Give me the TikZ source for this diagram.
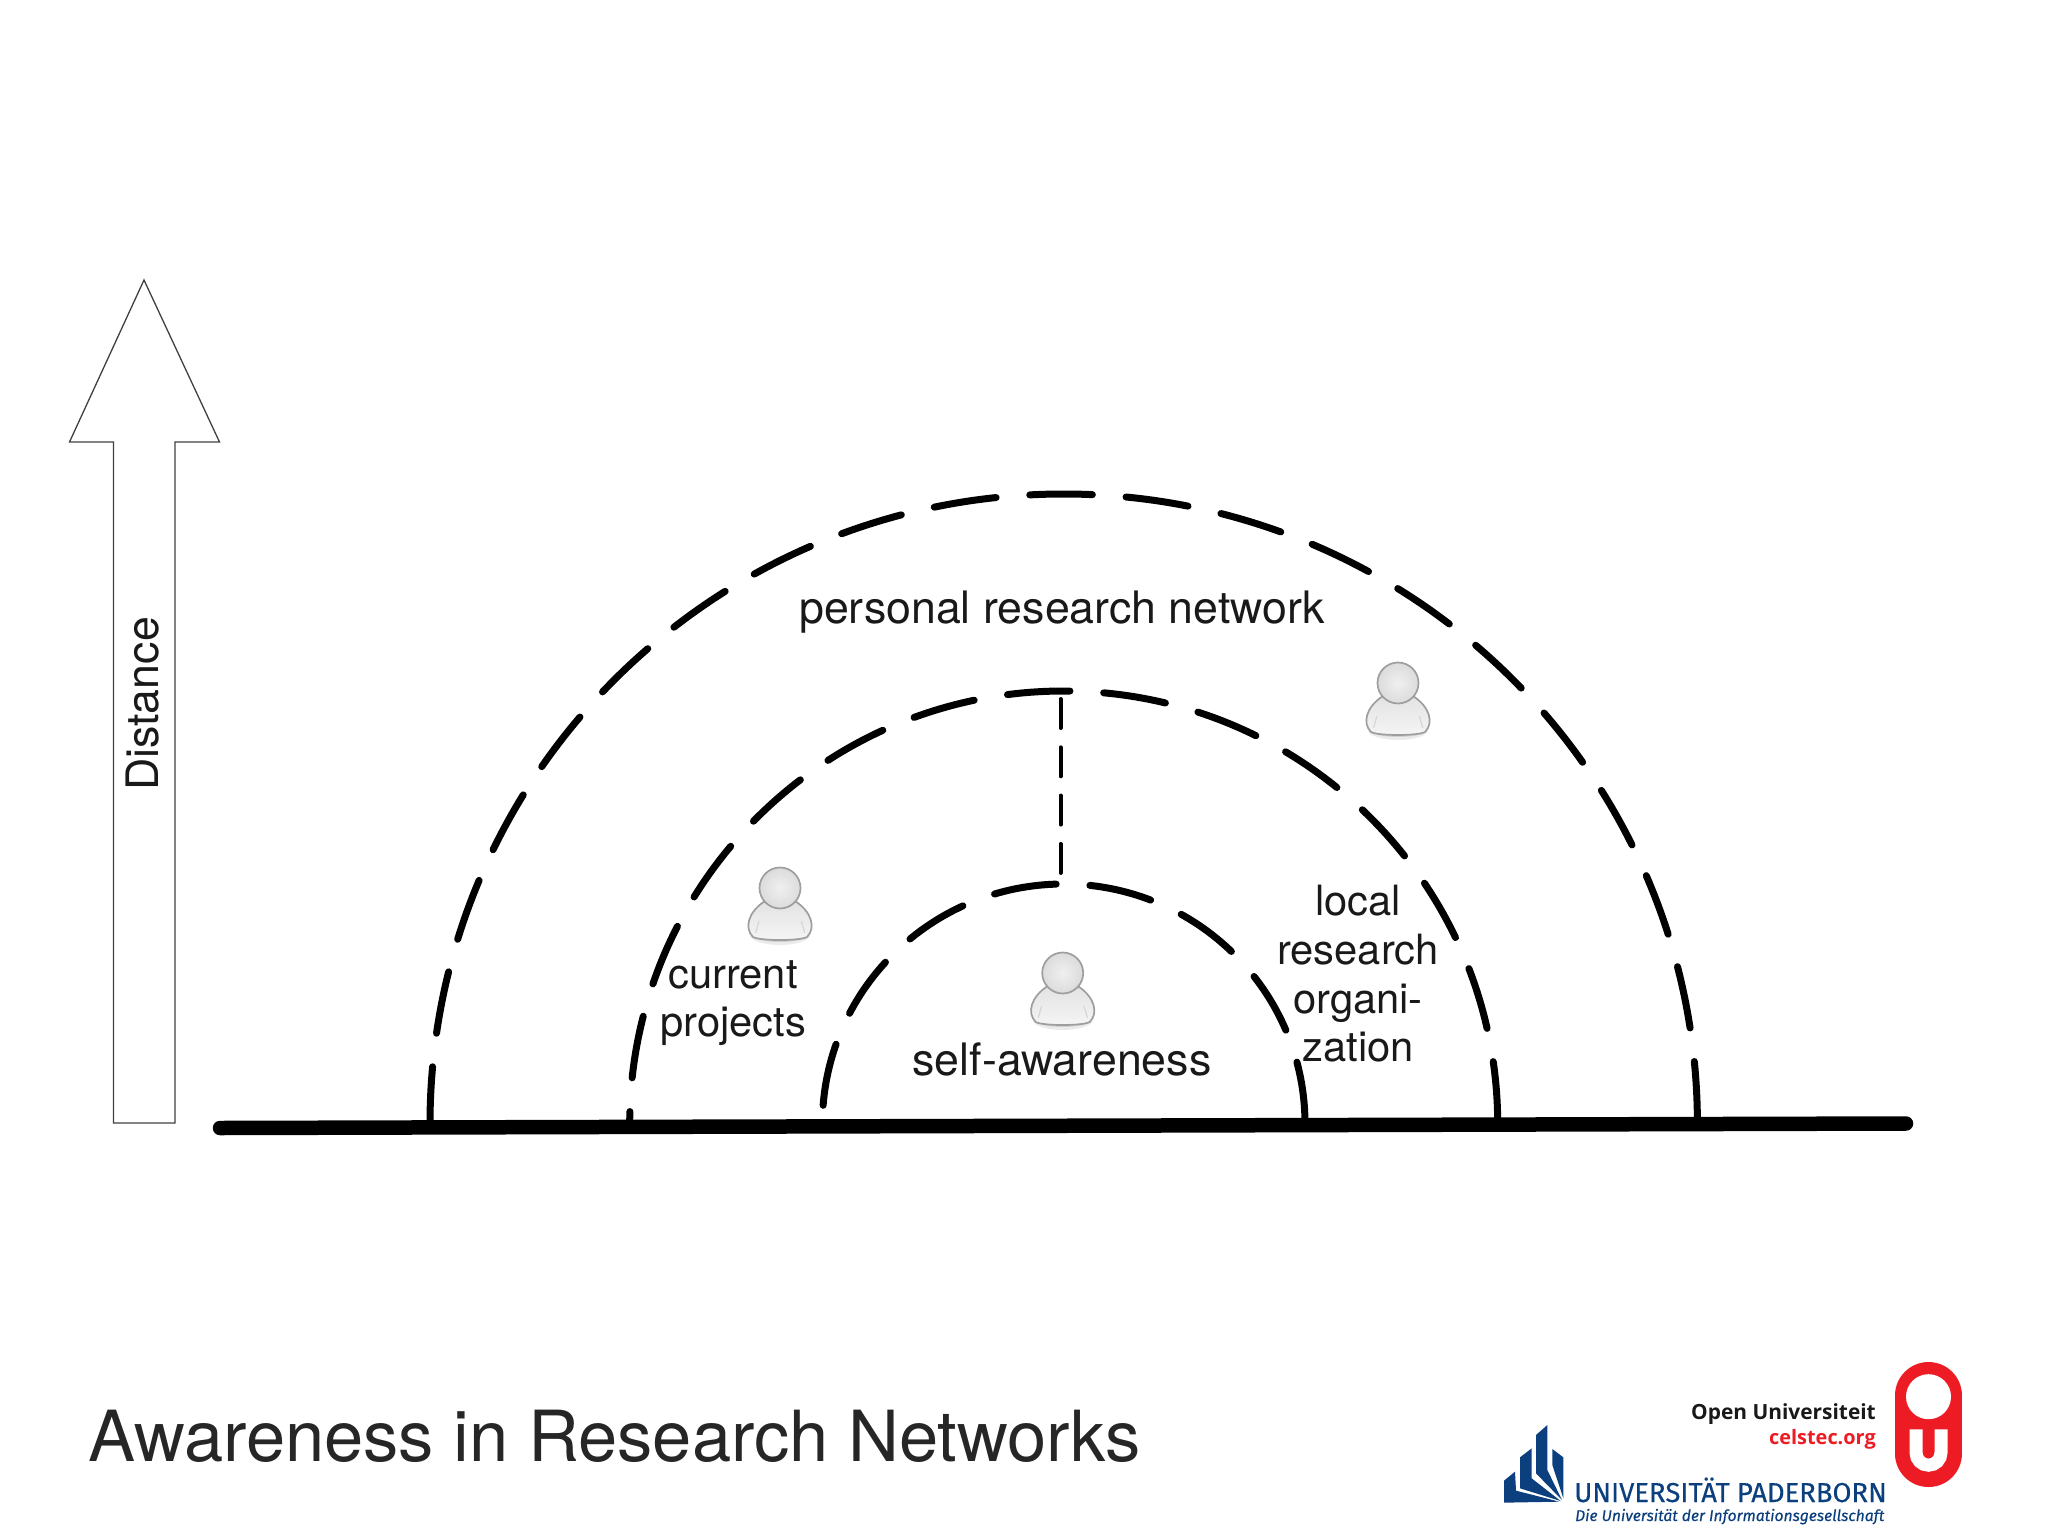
\documentclass[tikz,border=0pt]{standalone}
\usepackage{fontspec}
\setmainfont{TeX Gyre Heros}
\newfontfamily\logofont[FakeBold=0.4]{Fira Sans}
\newfontfamily\ouLogofont{Open Sans}
\definecolor{upblue}{HTML}{0B3F7E}
\definecolor{oured}{HTML}{ED1C24}
\tikzset{
    x=1pt, y=-1pt,
    ring/.style={line width=7pt, line cap=round, dash pattern=on 62.6pt off 33.8pt},
    label/.style={align=center, font=\fontsize{44.7}{48.7}\selectfont, text=black!90, inner sep=0pt},
    sidelabel/.style={label, font=\fontsize{41.7}{48.7}\selectfont},
    person/.pic={
        \fill[black!40, opacity=.2] (-30,48) .. controls (-24,60) and (24,60) .. (30,48) -- cycle;
        \fill[black!40, opacity=.3] (-28,48) .. controls (-22,56) and (22,56) .. (28,48) -- cycle;
        \draw[black!38, line width=1.7pt, top color=black!11, bottom color=black!4]
            (-27,49) .. controls (-36,40) and (-32,24) .. (-15,13) -- (15,13)
            .. controls (32,24) and (36,40) .. (27,49) .. controls (20,53) and (-20,53) .. (-27,49) -- cycle;
        \draw[black!16, line width=1.2pt] (-21,33) -- (-24.4,44.7) (21.3,33) -- (24.7,44.7);
        \draw[black!38, line width=1.7pt, shading=radial, inner color=black!6, outer color=black!14] (0,0) circle (20.5);
    }
}
\begin{document}
\begin{tikzpicture}
    \useasboundingbox (0,0) rectangle (2048,1536);
    % distance arrow
    \draw[black!75, line width=1.3pt] (144,280) -- (219.5,442) -- (175,442) -- (175,1123) -- (113.5,1123) -- (113.5,442) -- (69.5,442) -- cycle;
    \node[label, rotate=90] (distance) at (143,704) {Distance};
    % rings
    \draw[ring] (1697.4,1124) arc[start angle=0, end angle=-180, x radius=633.7, y radius=630];
    \draw[ring] (1497.7,1124) arc[start angle=0, end angle=-180, x radius=434, y radius=433];
    \draw[ring] (1305,1124) arc[start angle=0, end angle=-180, x radius=241.3, y radius=240];
    \draw[line width=4pt, line cap=round, dash pattern=on 29pt off 19.3pt] (1060.5,699) -- (1060.5,873);
    \draw[line width=14.5pt, line cap=round] (220,1128) -- (1906,1123.5);
    % labels
    \node[label] (network) at (1062,612) {personal research network};
    \node[sidelabel] (projects) at (733,1003) {current\\projects};
    \node[sidelabel] (organization) at (1358,974) {local\\research\\organi-\\zation};
    \node[label] (self) at (1062,1059.5) {self-awareness};
    \node[label, anchor=base west, font=\fontsize{70.5}{80}\selectfont, text=black!85] (title) at (88.4,1461) {Awareness in Research Networks};
    \pic at (780,888) {person};
    \pic at (1062.7,973) {person};
    \pic at (1398,683) {person};
    % logos
    \draw[oured, line width=67pt, line cap=round] (1928.5,1395.5) -- (1928.5,1453.5);
    \fill[white] (1928.5,1396.7) circle (22.5);
    \draw[white, line width=13pt] (1916,1429.3) -- (1916,1452.7) arc[start angle=180, end angle=0, radius=12.5] -- (1941,1429.3);
    \node[anchor=base east, inner sep=0pt, font=\ouLogofont\bfseries\fontsize{20.9}{24}\selectfont, text=black!90] (ou) at (1876,1419) {Open Universiteit};
    \node[anchor=base east, inner sep=0pt, font=\ouLogofont\bfseries\fontsize{19.9}{24}\selectfont, text=oured] (celstec) at (1876,1444) {celstec.org};
    \begin{scope}[shift={(1500,1420)}, scale=1/3]
        \fill[upblue] (12,248) -- (12,182) -- (45,155) -- (48,212) -- (178,245) -- cycle;
        \fill[upblue] (60,112) -- (95,85) -- (95,175) -- (182,243) -- (60,205) -- cycle;
        \fill[upblue] (108,45) -- (142,15) -- (142,150) -- (186,240) -- (108,160) -- cycle;
        \fill[upblue] (157,87) -- (190,112) -- (190,235) -- (157,135) -- cycle;
    \end{scope}
    \node[anchor=base west, inner sep=0pt, font=\logofont\fontsize{27.4}{30}\selectfont, text=upblue] (paderborn) at (1574,1502) {UNIVERSITÄT PADERBORN};
    \node[anchor=base west, inner sep=0pt, font=\logofont\itshape\fontsize{15.6}{20}\selectfont, text=upblue] (slogan) at (1575,1521) {Die Universität der Informationsgesellschaft};
\end{tikzpicture}
\end{document}
